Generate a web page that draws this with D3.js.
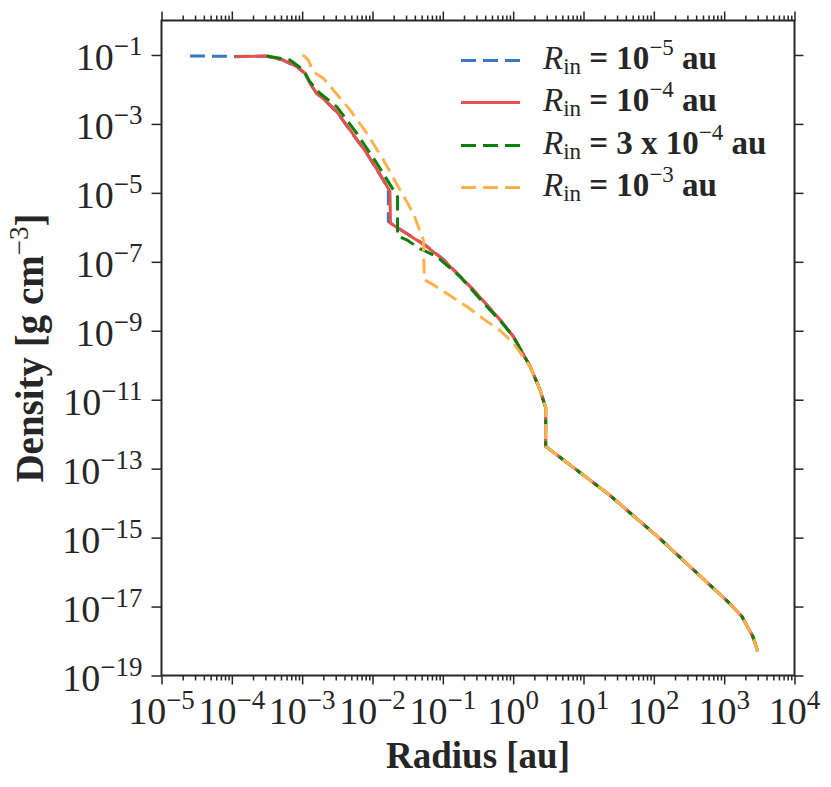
<!DOCTYPE html>
<html><head><meta charset="utf-8">
<script src="https://cdn.jsdelivr.net/npm/d3@7"></script>
<style>
body{margin:0;background:#fff}
svg text{font-family:"Liberation Serif","Times New Roman",serif;fill:#262626}
</style>
</head><body>
<svg id="chart" width="831" height="787"></svg>
<script>
// ---------- data ----------
const seriesNames = ["1e-5", "1e-4", "3e-4", "1e-3"];
const legendMant = ["", "", "3 x ", ""];
const legendExp = ["5", "4", "4", "3"];

const radiusBlue = [2.54e-5, 1.11e-4, 3.13e-4, 5.40e-4, 8.36e-4, 1.10e-3, 1.29e-3, 1.61e-3, 2.23e-3, 3.10e-3, 4.79e-3, 8.28e-3, 1.43e-2, 1.68e-2, 1.68e-2, 2.54e-2, 5.90e-2, 0.102, 0.271, 0.650, 1.005, 1.74, 2.41, 2.90, 2.90, 23.1, 122, 1086, 1778, 2547, 3000];
const densityBlue = [9.35e-2, 9.1e-2, 9.2e-2, 7.0e-2, 4.5e-2, 2.9e-2, 1.48e-2, 7.6e-3, 4.3e-3, 2.2e-3, 6.5e-4, 1.38e-4, 2.3e-5, 1.3e-5, 1.47e-6, 8.47e-7, 2.85e-7, 1.18e-7, 1.56e-8, 2.1e-9, 6.84e-10, 9.23e-11, 1.95e-11, 5.86e-12, 4.43e-13, 1.76e-14, 9.35e-16, 1.49e-17, 5.24e-18, 1.38e-18, 4.97e-19];

const radiusRed = [1.11e-4, 3.13e-4, 5.40e-4, 8.36e-4, 1.10e-3, 1.29e-3, 1.61e-3, 2.23e-3, 3.10e-3, 4.79e-3, 8.28e-3, 1.43e-2, 1.77e-2, 1.80e-2, 2.74e-2, 5.90e-2, 0.102, 0.271, 0.650, 1.005, 1.74, 2.41, 2.90, 2.90, 23.1, 122, 1086, 1778, 2547, 3000];
const densityRed = [8.93e-2, 9.35e-2, 7.16e-2, 4.58e-2, 2.95e-2, 1.51e-2, 7.76e-3, 4.43e-3, 2.28e-3, 6.70e-4, 1.42e-4, 2.38e-5, 1.09e-5, 1.32e-6, 7.55e-7, 2.77e-7, 1.14e-7, 1.54e-8, 2.08e-9, 6.84e-10, 9.23e-11, 1.95e-11, 5.86e-12, 4.43e-13, 1.76e-14, 9.35e-16, 1.49e-17, 5.24e-18, 1.38e-18, 4.97e-19];

const radiusGreen = [3.13e-4, 6.71e-4, 1.04e-3, 1.29e-3, 1.79e-3, 3.10e-3, 5.96e-3, 1.15e-2, 1.98e-2, 2.27e-2, 2.27e-2, 3.06e-2, 4.73e-2, 8.18e-2, 0.175, 0.421, 0.650, 1.005, 1.74, 2.41, 2.90, 2.90, 23.1, 122, 1086, 1778, 2547, 3000];
const densityGreen = [9.35e-2, 7.16e-2, 3.67e-2, 1.66e-2, 7.76e-3, 3.17e-3, 5.37e-4, 7.26e-5, 1.22e-5, 7.66e-6, 5.68e-7, 4.35e-7, 2.4e-7, 1.43e-7, 3.75e-8, 5.06e-9, 2.0e-9, 6.84e-10, 9.23e-11, 1.95e-11, 5.86e-12, 4.43e-13, 1.76e-14, 9.35e-16, 1.49e-17, 5.24e-18, 1.38e-18, 4.97e-19];

const radiusOrange = [1.02e-3, 1.22e-3, 1.44e-3, 2.00e-3, 2.77e-3, 4.79e-3, 8.28e-3, 1.43e-2, 2.46e-2, 3.80e-2, 5.27e-2, 5.46e-2, 7.33e-2, 0.219, 0.338, 0.650, 1.005, 1.74, 2.41, 2.90, 2.90, 23.1, 122, 1086, 1778, 2547, 3000];
const densityOrange = [0.1, 7.16e-2, 3.28e-2, 2.11e-2, 9.68e-3, 2.55e-3, 5.37e-4, 9.06e-5, 1.22e-5, 2.58e-6, 4.35e-7, 3.01e-8, 2.15e-8, 5.06e-9, 2.59e-9, 1.02e-9, 4.40e-10, 9.23e-11, 1.95e-11, 5.86e-12, 4.43e-13, 1.76e-14, 9.35e-16, 1.49e-17, 5.24e-18, 1.38e-18, 4.97e-19];

const xTickExps = [-5, -4, -3, -2, -1, 0, 1, 2, 3, 4];
const yTickExps = [-1, -3, -5, -7, -9, -11, -13, -15, -17, -19];

// ---------- layout ----------
const svg = d3.select("#chart");
const L = 161.5, R = 794.5, T = 20.5, B = 675.5;
const x = d3.scaleLog().domain([1e-5, 1e4]).range([L, R]);
const y = d3.scaleLog().domain([1, 1e-19]).range([T, B]);
const ink = "#262626";

const series = [
  {r: radiusBlue, d: densityBlue, color: "#3778bf", dash: "15,7"},
  {r: radiusRed, d: densityRed, color: "#ea4f48", dash: null},
  {r: radiusGreen, d: densityGreen, color: "#0a800a", dash: "15,7"},
  {r: radiusOrange, d: densityOrange, color: "#feb24c", dash: "15,7"}
];

const line = d3.line().x(p => x(p[0])).y(p => y(p[1]));
const plot = svg.append("g");
plot.append("defs").append("clipPath").attr("id", "clip")
  .append("rect").attr("x", L).attr("y", T).attr("width", R - L).attr("height", B - T);
series.forEach(s => {
  plot.append("path")
    .attr("clip-path", "url(#clip)")
    .attr("d", line(s.r.map((v, i) => [v, s.d[i]])))
    .attr("fill", "none").attr("stroke", s.color).attr("stroke-width", 3)
    .attr("stroke-dasharray", s.dash).attr("stroke-linejoin", "round");
});

// ---------- axes ----------
const majorX = xTickExps.map(e => Math.pow(10, e));
const minorX = [];
xTickExps.slice(0, -1).forEach(e => { for (let m = 2; m <= 9; m++) minorX.push(m * Math.pow(10, e)); });
const majorY = yTickExps.map(e => Math.pow(10, e));

function styleAxis(g) {
  g.select(".domain").remove();
  g.selectAll(".tick line").attr("stroke", ink).attr("stroke-width", 1.5);
  g.selectAll(".tick text").remove();
}
svg.append("g").attr("transform", `translate(0,${B})`)
  .call(d3.axisBottom(x).tickValues(majorX).tickSize(9).tickFormat("")).call(styleAxis);
svg.append("g").attr("transform", `translate(0,${B})`)
  .call(d3.axisBottom(x).tickValues(minorX).tickSize(5).tickFormat("")).call(styleAxis);
svg.append("g").attr("transform", `translate(0,${T})`)
  .call(d3.axisTop(x).tickValues(majorX).tickSize(9).tickFormat("")).call(styleAxis);
svg.append("g").attr("transform", `translate(0,${T})`)
  .call(d3.axisTop(x).tickValues(minorX).tickSize(5).tickFormat("")).call(styleAxis);
svg.append("g").attr("transform", `translate(${L},0)`)
  .call(d3.axisLeft(y).tickValues(majorY).tickSize(10).tickFormat("")).call(styleAxis);
svg.append("g").attr("transform", `translate(${R},0)`)
  .call(d3.axisRight(y).tickValues(majorY).tickSize(9).tickFormat("")).call(styleAxis);

svg.append("rect").attr("x", L).attr("y", T).attr("width", R - L).attr("height", B - T)
  .attr("fill", "none").attr("stroke", ink).attr("stroke-width", 2);

// tick labels
const TF = 38, SF = 27;
const xl = svg.append("g");
xTickExps.forEach(e => {
  const t = xl.append("text").attr("x", x(Math.pow(10, e))).attr("y", B + 48)
    .attr("text-anchor", "middle").attr("font-size", TF);
  t.append("tspan").text("10");
  t.append("tspan").attr("dy", -15).attr("font-size", SF).text((e < 0 ? "\u2212" : "") + Math.abs(e));
});
const yl = svg.append("g");
yTickExps.forEach(e => {
  const t = yl.append("text").attr("x", L - 19).attr("y", y(Math.pow(10, e)) + 15)
    .attr("text-anchor", "end").attr("font-size", TF);
  t.append("tspan").text("10");
  t.append("tspan").attr("dy", -15).attr("font-size", SF).text("\u2212" + Math.abs(e));
});

// axis titles
svg.append("text").attr("x", (L + R) / 2).attr("y", 768).attr("text-anchor", "middle")
  .attr("font-size", 37).attr("font-weight", "bold").text("Radius [au]");
const yt = svg.append("text").attr("transform", `translate(43,${(T + B) / 2}) rotate(-90)`)
  .attr("text-anchor", "middle").attr("font-size", 39).attr("font-weight", "bold");
yt.append("tspan").text("Density [g cm");
yt.append("tspan").attr("dy", -15).attr("font-size", 27).attr("font-weight", "normal").text("\u22123");
yt.append("tspan").attr("dy", 15).text("]");

// legend
const legY = [60.5, 102.5, 145.5, 187.5];
const LF = 33;
series.forEach((s, i) => {
  svg.append("line").attr("x1", 461).attr("x2", 520).attr("y1", legY[i]).attr("y2", legY[i])
    .attr("stroke", s.color).attr("stroke-width", 3).attr("stroke-dasharray", s.dash);
  const t = svg.append("text").attr("x", 543).attr("y", legY[i] + 8).attr("font-size", LF);
  t.append("tspan").attr("font-style", "italic").text("R");
  t.append("tspan").attr("dy", 5).attr("font-size", 23).text("in");
  t.append("tspan").attr("dy", -5).attr("font-weight", "bold").text(" = " + legendMant[i] + "10");
  t.append("tspan").attr("dy", -14).attr("font-size", 23).text("\u2212" + legendExp[i]);
  t.append("tspan").attr("dy", 14).attr("font-weight", "bold").text(" au");
});
</script>
</body></html>
